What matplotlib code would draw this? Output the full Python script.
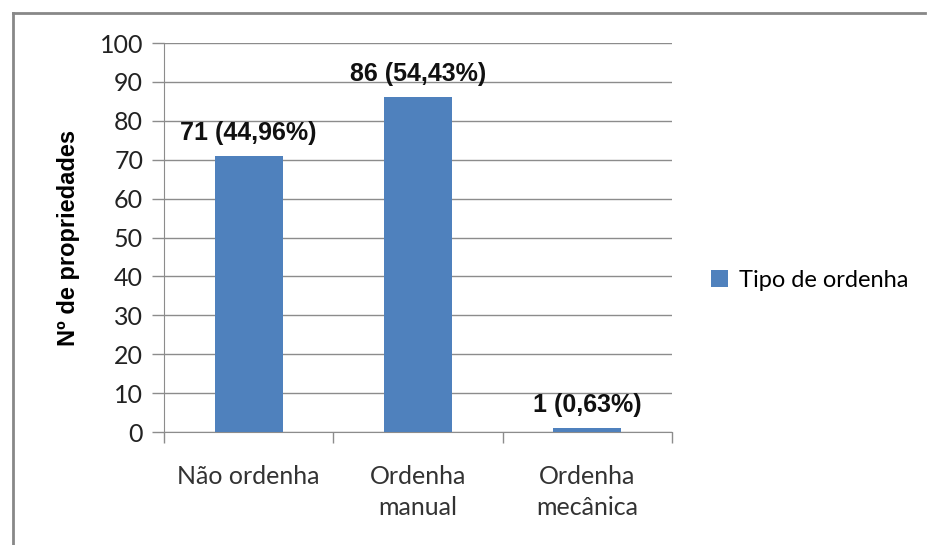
import matplotlib.pyplot as plt
from matplotlib.lines import Line2D

categories = ["Não ordenha", "Ordenha\nmanual", "Ordenha\nmecânica"]
counts = [71, 86, 1]
percents = ["44,96%", "54,43%", "0,63%"]
series_name = "Tipo de ordenha"

bar_color = "#4F81BD"
grid_color = "#8C8C8C"

fig = plt.figure(figsize=(9.27, 5.45), dpi=100)
ax = fig.add_axes([0.1769, 0.2073, 0.548, 0.7138])

x = list(range(len(categories)))
ax.bar(x, counts, width=0.4, color=bar_color, zorder=3, label=series_name)
ax.set_xlim(-0.5, len(categories) - 0.5)
ax.set_ylim(0, 100)
ax.set_yticks(range(0, 101, 10))
ax.yaxis.grid(True, color=grid_color, linewidth=1, zorder=0)

# category boundary ticks
ax.set_xticks([i - 0.5 for i in range(len(categories) + 1)])
ax.set_xticklabels([])
ax.set_xticks(x, minor=True)
ax.set_xticklabels(categories, minor=True, fontsize=18, family="Lato", color="#333333", linespacing=1.4)
ax.tick_params(axis="x", which="minor", length=0, pad=24)
ax.tick_params(axis="x", which="major", length=8, color=grid_color, width=1)
ax.tick_params(axis="y", length=9, color=grid_color, width=1, labelsize=18, labelcolor="#222222", pad=6)
for lab in ax.get_yticklabels():
    lab.set_family("Lato")

for s in ["top", "right"]:
    ax.spines[s].set_visible(False)
for s in ["left", "bottom"]:
    ax.spines[s].set_color(grid_color)

for xi, c, p in zip(x, counts, percents):
    ax.annotate(f"{c} ({p})", (xi, c), xytext=(0, 8), textcoords="offset points",
                ha="center", va="bottom", fontsize=18, fontweight="bold", family="Liberation Sans", color="#111111")

ax.set_ylabel("Nº de propriedades", fontsize=17, fontweight="bold", family="Liberation Sans", labelpad=14)

ax.legend(loc="center left", bbox_to_anchor=(1.035, 0.39), frameon=False,
          prop={"family": "Lato", "size": 17}, handlelength=0.7, handleheight=0.7, handletextpad=0.5)

# outer frame (left and top edges)
fig.add_artist(Line2D([0.0135, 0.0135], [0, 0.976], color="#888888", linewidth=2, transform=fig.transFigure))
fig.add_artist(Line2D([0.0135, 0.998], [0.976, 0.976], color="#888888", linewidth=2, transform=fig.transFigure))

fig.savefig("out.png", dpi=100)
